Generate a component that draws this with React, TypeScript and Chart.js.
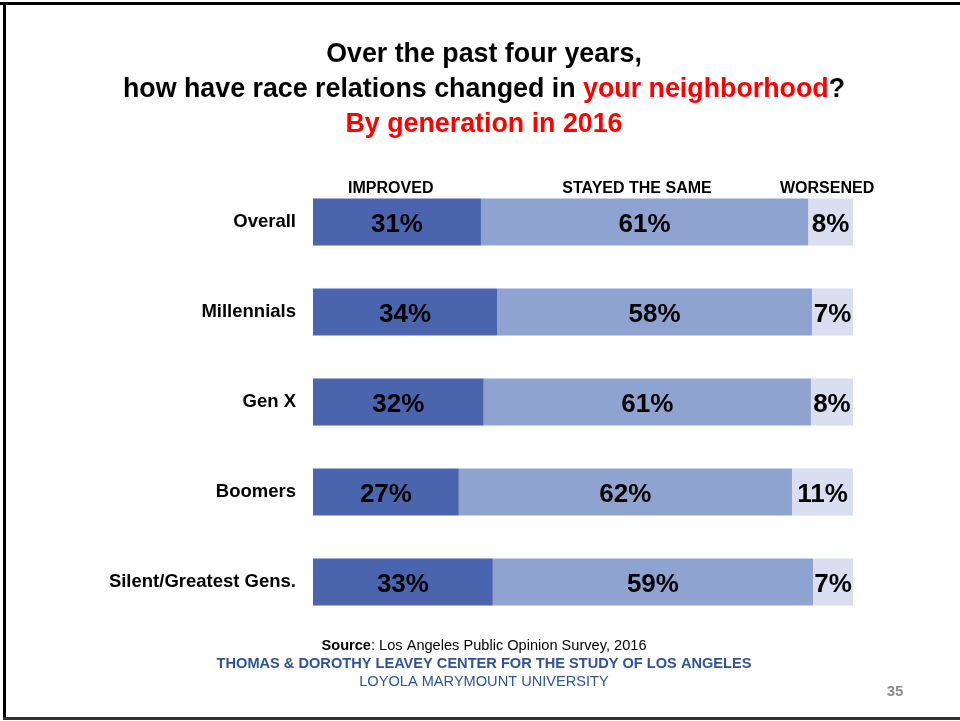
import React, { useEffect, useRef } from "react";
import { Chart, registerables } from "chart.js";

Chart.register(...registerables);

const categories = ["Overall", "Millennials", "Gen X", "Boomers", "Silent/Greatest Gens."];
const improved = [31.1, 34.1, 31.6, 27.0, 33.3];
const stayedSame = [60.6, 58.3, 60.6, 61.7, 59.3];
const worsened = [8.3, 7.6, 7.8, 11.3, 7.4];
const improvedLabels = ["31%", "34%", "32%", "27%", "33%"];
const stayedLabels = ["61%", "58%", "61%", "62%", "59%"];
const worsenedLabels = ["8%", "7%", "8%", "11%", "7%"];
const seriesNames = ["IMPROVED", "STAYED THE SAME", "WORSENED"];
const headerAnchors = [14.4, 60.0, 95.2];

const FONT = '"Liberation Sans", Arial, sans-serif';
const COLORS = ["#4A65AD", "#8FA3D1", "#D9DEF0"];

const overlay = {
  id: "overlay",
  afterDraw(chart: any) {
    const ctx = chart.ctx as CanvasRenderingContext2D;
    const xs = chart.scales.x;
    ctx.save();
    // frame
    ctx.fillStyle = "#000";
    ctx.fillRect(0, 2, 960, 3);
    ctx.fillRect(3, 2, 3, 718);
    ctx.fillStyle = "#333";
    ctx.fillRect(3, 717, 957, 3);

    // title
    const cx = 484;
    ctx.textBaseline = "alphabetic";
    ctx.font = `bold 26.8px ${FONT}`;
    ctx.textAlign = "center";
    ctx.fillStyle = "#000";
    ctx.fillText("Over the past four years,", cx, 62);
    const p1 = "how have race relations changed in ";
    const p2 = "your neighborhood";
    const p3 = "?";
    const w1 = ctx.measureText(p1).width;
    const w2 = ctx.measureText(p2).width;
    const w3 = ctx.measureText(p3).width;
    const x0 = cx - (w1 + w2 + w3) / 2;
    ctx.textAlign = "left";
    ctx.fillStyle = "#000";
    ctx.fillText(p1, x0, 97);
    ctx.fillStyle = "#FF0000";
    ctx.fillText(p2, x0 + w1, 97);
    ctx.fillStyle = "#000";
    ctx.fillText(p3, x0 + w1 + w2, 97);
    ctx.textAlign = "center";
    ctx.fillStyle = "#FF0000";
    ctx.fillText("By generation in 2016", cx, 132);

    // column headers
    ctx.font = `bold 16px ${FONT}`;
    ctx.fillStyle = "#000";
    seriesNames.forEach((n, i) => {
      ctx.fillText(n, xs.getPixelForValue(headerAnchors[i]), 193);
    });

    // data labels
    const labelSets = [improvedLabels, stayedLabels, worsenedLabels];
    ctx.font = `bold 26px ${FONT}`;
    ctx.fillStyle = "#000";
    chart.data.datasets.forEach((ds: any, di: number) => {
      const meta = chart.getDatasetMeta(di);
      meta.data.forEach((bar: any, i: number) => {
        const left = Math.min(bar.x, bar.base);
        const right = Math.max(bar.x, bar.base);
        ctx.fillText(labelSets[di][i], (left + right) / 2, bar.y + 10);
      });
    });

    // footer
    const fs = 14.6;
    ctx.font = `bold ${fs}px ${FONT}`;
    const s1 = "Source";
    const s2 = ": Los Angeles Public Opinion Survey, 2016";
    const sw1 = ctx.measureText(s1).width;
    ctx.font = `${fs}px ${FONT}`;
    const sw2 = ctx.measureText(s2).width;
    const sx = cx - (sw1 + sw2) / 2;
    ctx.textAlign = "left";
    ctx.fillStyle = "#000";
    ctx.font = `bold ${fs}px ${FONT}`;
    ctx.fillText(s1, sx, 650);
    ctx.font = `${fs}px ${FONT}`;
    ctx.fillText(s2, sx + sw1, 650);
    ctx.textAlign = "center";
    ctx.fillStyle = "#2E5496";
    ctx.font = `bold ${fs}px ${FONT}`;
    ctx.fillText("THOMAS & DOROTHY LEAVEY CENTER FOR THE STUDY OF LOS ANGELES", cx, 668);
    ctx.font = `${fs}px ${FONT}`;
    ctx.fillText("LOYOLA MARYMOUNT UNIVERSITY", cx, 686);
    ctx.fillStyle = "#8C8C8C";
    ctx.font = `bold 15px ${FONT}`;
    ctx.fillText("35", 895, 696);
    ctx.restore();
  },
};

export default function App() {
  const ref = useRef<HTMLCanvasElement>(null);
  useEffect(() => {
    const canvas = ref.current!;
    const data = [improved, stayedSame, worsened];
    const chart = new Chart(canvas, {
      type: "bar",
      data: {
        labels: categories,
        datasets: seriesNames.map((n, i) => ({
          label: n,
          data: data[i],
          backgroundColor: COLORS[i],
          borderWidth: 0,
          barPercentage: 0.52,
          categoryPercentage: 1,
        })),
      },
      options: {
        indexAxis: "y",
        responsive: false,
        animation: false,
        layout: { padding: { left: 0, right: 107, top: 177, bottom: 94 } },
        plugins: { legend: { display: false }, tooltip: { enabled: false }, title: { display: false } },
        scales: {
          x: { stacked: true, min: 0, max: 100, display: false },
          y: {
            stacked: true,
            grid: { display: false, drawTicks: false },
            border: { display: false },
            ticks: { color: "#000", font: { family: FONT, size: 18.5, weight: "bold" }, padding: 17 },
            afterFit(scale: any) {
              scale.width = 313;
            },
          },
        },
      },
      plugins: [overlay],
    });
    return () => chart.destroy();
  }, []);
  return (
    <div style={{ position: "fixed", left: 0, top: 0, width: 960, height: 721, background: "#fff" }}>
      <canvas ref={ref} width={960} height={721} style={{ display: "block" }} />
    </div>
  );
}
